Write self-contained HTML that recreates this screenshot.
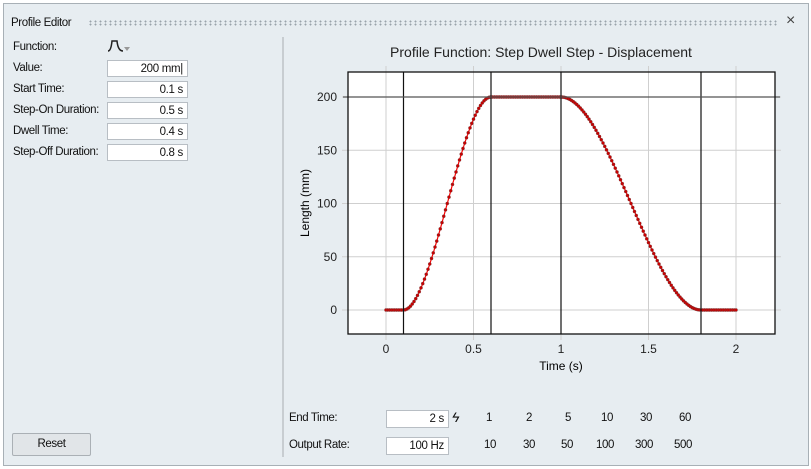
<!DOCTYPE html>
<html><head><meta charset="utf-8"><style>
body{margin:0;width:811px;height:469px;background:#fff;font-family:"Liberation Sans",sans-serif;font-size:12px;color:#111;position:relative;overflow:hidden}
.win{position:absolute;left:3px;top:3px;width:804px;height:461px;background:#e7edf1;border:1px solid #a8b0b6}
.a{position:absolute;white-space:nowrap}
.l{font-size:11.5px;letter-spacing:-0.4px}
.box{position:absolute;background:#fff;border:1px solid #b8bec4;height:17px;box-sizing:border-box;text-align:right;padding-right:4px;line-height:16px;font-size:11.5px;letter-spacing:-0.3px}
</style></head><body>
<div class="win"></div>
<div class="a l" style="left:11px;top:17px">Profile Editor</div>
<div class="a" style="left:88px;top:20px;width:690px;height:6px;background-image:radial-gradient(circle,#9aa3aa 0.8px,transparent 1.1px);background-size:5px 3px"></div>
<div class="a" style="left:786px;top:12px;font-size:16px;color:#444">×</div>
<div class="a" style="left:282px;top:37px;width:2px;height:420px;background:#c8cdd1"></div>
<div class="a l" style="left:13px;top:41px">Function:</div>
<svg class="a" style="left:107px;top:39px" width="24" height="14"><path d="M1 12 Q4 12 5 2 L10 2 Q11 12 16 12" fill="none" stroke="#222" stroke-width="1.5"/><path d="M17 8 L23 8 L20 12Z" fill="#999"/></svg>
<div class="a l" style="left:13px;top:62px">Value:</div>
<div class="box" style="left:107px;top:60px;width:81px">200 mm|</div>
<div class="a l" style="left:13px;top:83px">Start Time:</div>
<div class="box" style="left:107px;top:81px;width:81px">0.1 s</div>
<div class="a l" style="left:13px;top:104px">Step-On Duration:</div>
<div class="box" style="left:107px;top:102px;width:81px">0.5 s</div>
<div class="a l" style="left:13px;top:125px">Dwell Time:</div>
<div class="box" style="left:107px;top:123px;width:81px">0.4 s</div>
<div class="a l" style="left:13px;top:146px">Step-Off Duration:</div>
<div class="box" style="left:107px;top:144px;width:81px">0.8 s</div>
<div class="a l" style="left:12px;top:433px;width:77px;height:21px;border:1px solid #aab0b5;background:#e1e5e8;text-align:center;line-height:20px;border-radius:2px">Reset</div>

<svg class="a" style="left:0;top:0" width="811" height="469" id="s">
<text x="541" y="57" text-anchor="middle" font-size="14" fill="#222" font-family="Liberation Sans">Profile Function: Step Dwell Step - Displacement</text>
<rect x="348" y="72" width="427" height="262" fill="#fff"/>
<g stroke="#cfcfcf" stroke-width="1" id="grid"></g>
<g id="ticks" font-size="12" fill="#222"></g>
<polyline id="curve" fill="none" stroke="#ff0000" stroke-width="1.2"/>
<g id="pts" fill="#c80000" stroke="#555" stroke-width="0.3"></g>
<g stroke="#111" stroke-width="1.2">
<line x1="403.5" y1="72" x2="403.5" y2="334"/><line x1="491" y1="72" x2="491" y2="334"/>
<line x1="561" y1="72" x2="561" y2="334"/><line x1="701" y1="72" x2="701" y2="334"/>
<line x1="343" y1="97" x2="780" y2="97" stroke="#555"/>
</g>
<rect x="348" y="72" width="427" height="262" fill="none" stroke="#111" stroke-width="1.3"/>
<text x="561" y="370" text-anchor="middle" font-size="12">Time (s)</text>
<text transform="translate(309,203) rotate(-90)" text-anchor="middle" font-size="12">Length (mm)</text>
</svg>
<script>
var X=t=>386+175*t,Y=v=>310-1.065*v,g=document.getElementById('grid'),tk=document.getElementById('ticks'),ns='http://www.w3.org/2000/svg';
function el(p,n,a,t){var e=document.createElementNS(ns,n);for(var k in a)e.setAttribute(k,a[k]);if(t)e.textContent=t;p.appendChild(e);}
[0,.5,1,1.5,2].forEach(t=>{el(g,'line',{x1:X(t),y1:66,x2:X(t),y2:340});el(tk,'text',{x:X(t),y:353,'text-anchor':'middle'},String(t));});
[0,50,100,150,200].forEach(v=>{el(g,'line',{x1:342,y1:Y(v),x2:781,y2:Y(v)});el(tk,'text',{x:337,y:Y(v)+4,'text-anchor':'end'},String(v));});
function f(t){var s;if(t<=.1)return 0;if(t<.6){s=(t-.1)/.5;return 200*s*s*(3-2*s);}if(t<=1)return 200;if(t<1.8){s=(t-1)/.8;return 200*(1-s*s*(3-2*s));}return 0;}
var pts=[],P=document.getElementById('pts');
for(var i=0;i<=200;i++){var t=i/100,x=X(t),y=Y(f(t));pts.push(x.toFixed(1)+','+y.toFixed(1));el(P,'circle',{cx:x,cy:y,r:1.6});}
document.getElementById('curve').setAttribute('points',pts.join(' '));
</script>
<div class="a l" style="left:289px;top:412px">End Time:</div>
<div class="box" style="left:386px;top:410px;width:63px;height:18px">2 s</div>
<div class="a" style="left:452px;top:409px;font-size:14px;font-style:italic">ϟ</div>
<div class="a l" style="left:289px;top:439px">Output Rate:</div>
<div class="box" style="left:386px;top:437px;width:63px;height:18px">100 Hz</div>
<div class="a l" style="left:486px;top:412px;width:220px"><span class="a" style="left:0">1</span><span class="a" style="left:40px">2</span><span class="a" style="left:79px">5</span><span class="a" style="left:115px">10</span><span class="a" style="left:154px">30</span><span class="a" style="left:193px">60</span></div>
<div class="a l" style="left:484px;top:439px;width:220px"><span class="a" style="left:0">10</span><span class="a" style="left:39px">30</span><span class="a" style="left:77px">50</span><span class="a" style="left:112px">100</span><span class="a" style="left:151px">300</span><span class="a" style="left:190px">500</span></div>
</body></html>
